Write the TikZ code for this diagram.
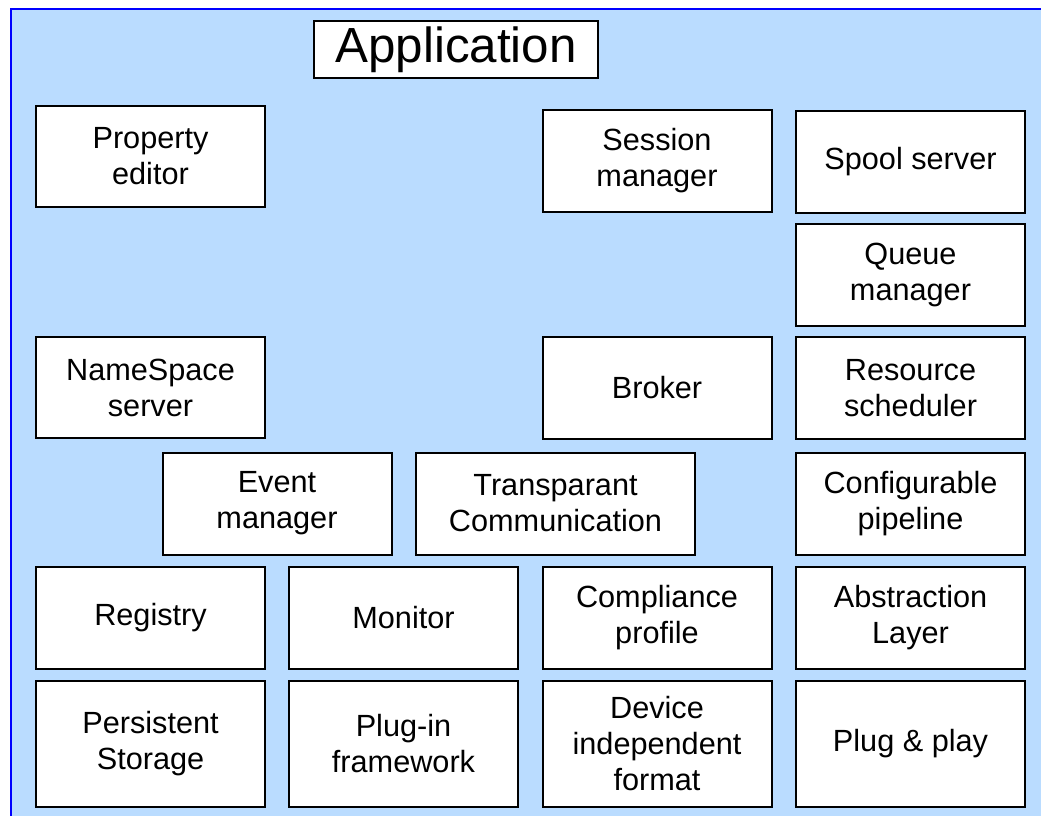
\documentclass[tikz,border=0pt]{standalone}
\usepackage{fontspec}
\setmainfont{Liberation Sans}
\definecolor{bgblue}{RGB}{186,220,255}
\begin{document}
\begin{tikzpicture}[x=0.75pt,y=-0.75pt,
  blk/.style={draw, fill=white, line width=1.5pt, inner sep=0pt, align=center,
    minimum width=171.75pt, minimum height=76.5pt, font=\fontsize{23}{27}\selectfont}]
\useasboundingbox (0,0) rectangle (1041,816);
\fill[bgblue] (11,9) rectangle (1041,816);
\draw[blue, line width=1.5pt] (11,816) -- (11,9) -- (1041,9);
\node[blk, minimum width=213pt, minimum height=42.75pt, font=\fontsize{37}{40}\selectfont] (app) at (456,49.5){Application};
\node[blk, minimum height=75.75pt] (prop) at (150.5,156.5){Property\\editor};
\node[blk] (sess) at (657,161){Session\\manager};
\node[blk] (spool) at (910.5,162){Spool server};
\node[blk] (queue) at (910.5,275){Queue\\manager};
\node[blk, minimum height=75.75pt] (names) at (150.5,387.5){NameSpace\\server};
\node[blk] (broker) at (657,388){Broker};
\node[blk] (resch) at (910.5,388){Resource\\scheduler};
\node[blk] (event) at (277,503.5){Event\\manager};
\node[blk, minimum width=209.25pt] (transp) at (555.5,503.5){Transparant\\Communication};
\node[blk] (pipe) at (910.5,503.5){Configurable\\pipeline};
\node[blk] (reg) at (150.5,617.5){Registry};
\node[blk] (mon) at (403.5,617.5){Monitor};
\node[blk] (compl) at (657,617.5){Compliance\\profile};
\node[blk] (abstr) at (910.5,617.5){Abstraction\\Layer};
\node[blk, minimum height=94.5pt] (pers) at (150.5,744){Persistent\\Storage};
\node[blk, minimum height=94.5pt] (plugin) at (403.5,744){Plug-in\\framework};
\node[blk, minimum height=94.5pt] (devfmt) at (657,744){Device\\independent\\format};
\node[blk, minimum height=94.5pt] (pnp) at (910.5,744){Plug \& play};
\end{tikzpicture}
\end{document}
